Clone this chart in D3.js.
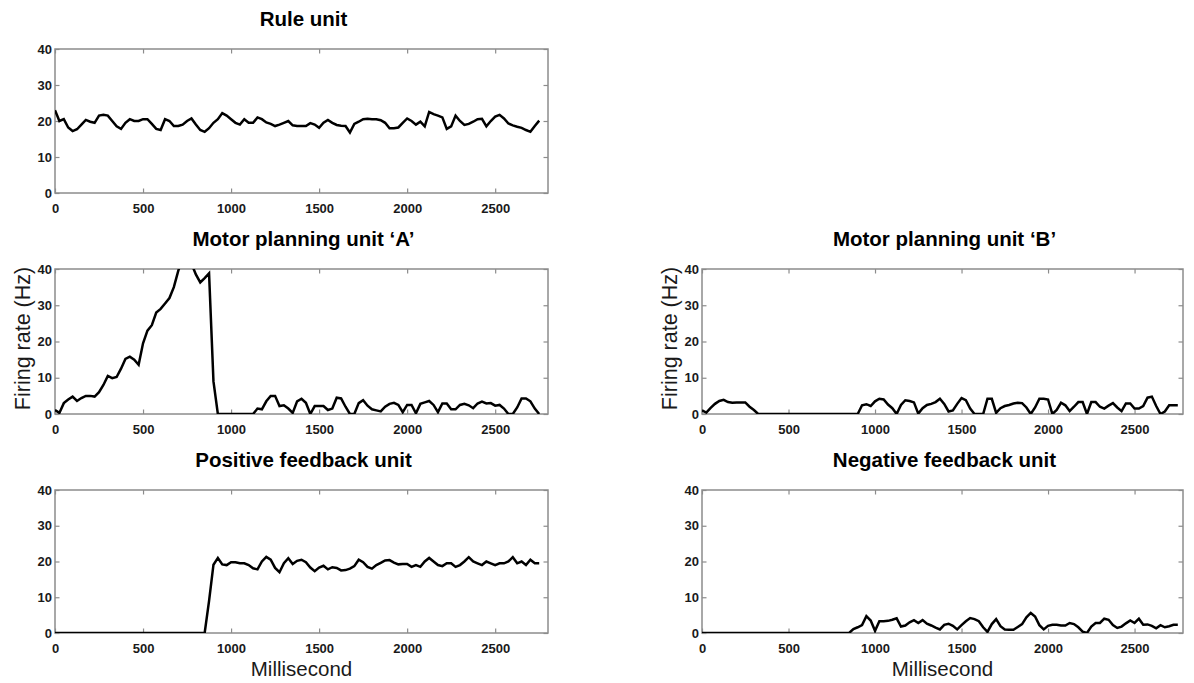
<!DOCTYPE html>
<html>
<head>
<meta charset="utf-8">
<script src="https://cdn.jsdelivr.net/npm/d3@7"></script>
<style>
  body { margin: 0; background: #fff; }
  svg { display: block; }
</style>
</head>
<body>
<svg id="chart" width="1194" height="683"></svg>
<script>
// Firing rate (Hz) of each unit, sampled every 25 ms from 0 to 2750 ms
const sampleStepMs = 25;

const ruleUnit = [
  23, 20, 20.5, 18.2, 17.2, 17.7, 19, 20.3, 19.8, 19.5,
  21.5, 21.7, 21.5, 20, 18.5, 17.8, 19.5, 20.5, 20, 20,
  20.5, 20.5, 19.2, 17.8, 17.5, 20.5, 20, 18.6, 18.6, 19,
  20, 20.7, 19, 17.5, 17, 18, 19.5, 20.5, 22.2, 21.5,
  20.5, 19.5, 19, 20.5, 19.5, 19.5, 21, 20.5, 19.6, 19.2,
  18.6, 19, 19.5, 20, 18.8, 18.6, 18.6, 18.6, 19.4, 19,
  18.1, 19.5, 20.3, 19.5, 18.9, 18.7, 18.6, 16.8, 19.2, 19.8,
  20.5, 20.6, 20.5, 20.5, 20.2, 19.5, 18, 18, 18.2, 19.5,
  20.7, 20, 19, 19.8, 18.5, 22.5, 21.9, 21.5, 21, 17.8,
  18.5, 21.5, 20, 18.9, 19.2, 19.8, 20.5, 20.6, 18.5, 20,
  21.2, 21.7, 20.7, 19.3, 18.8, 18.4, 18.1, 17.5, 17, 18.6,
  20.1
];

const motorUnitA = [
  1.1, 0.3, 3, 4, 4.8, 3.6, 4.4, 5, 5, 4.8,
  6, 8, 10.5, 9.9, 10.2, 12.5, 15.2, 15.8, 15, 13.6,
  19.5, 23, 24.5, 28, 29, 30.5, 32, 35, 39.5, 43,
  44, 41.5, 38.5, 36.3, 37.5, 38.8, 9, 0, 0, 0,
  0, 0, 0, 0, 0, 0, 1.5, 1.3, 3.5, 5,
  5, 2.2, 2.4, 1.5, 0.3, 3.5, 4.2, 3.1, 0, 2.2,
  2.2, 2.2, 1.1, 1.5, 4.5, 4.3, 2, 0, 0, 3,
  3.8, 2.3, 1.3, 1, 0.7, 2, 2.8, 3.1, 2.5, 0.5,
  2.5, 2.5, 0.2, 2.8, 3.2, 3.6, 2.5, 0.5, 2.9, 2.9,
  1.3, 1.3, 2.5, 2.8, 2.4, 1.6, 2.9, 3.4, 2.9, 3,
  2.3, 2.5, 1.5, 0, 0, 1.8, 4.3, 4.3, 3.5, 1.5,
  0
];

const motorUnitB = [
  1, 0.4, 1.7, 2.8, 3.6, 3.9, 3.3, 3.1, 3.2, 3.2,
  3.2, 2, 1.1, 0, 0, 0, 0, 0, 0, 0,
  0, 0, 0, 0, 0, 0, 0, 0, 0, 0,
  0, 0, 0, 0, 0, 0, 0, 2.4, 2.7, 2.2,
  3.5, 4.2, 4, 2.6, 1.6, 0, 2.5, 3.8, 3.6, 3.2,
  0.1, 1.6, 2.5, 2.8, 3.3, 4.2, 2.8, 0.7, 1, 2.8,
  4.4, 3.8, 1.5, 0, 0, 0, 4.2, 4.2, 0.3, 1.6,
  2.2, 2.5, 2.9, 3.1, 3, 1.8, 0, 1.8, 4.2, 4.2,
  4, 0, 1.1, 3.1, 2.4, 0.8, 2, 3.3, 3.3, 0,
  3.3, 3.3, 2, 1.5, 2.3, 3, 1.8, 0.8, 2.9, 2.9,
  1.5, 1.5, 2.2, 4.5, 4.8, 2.2, 0, 0.7, 2.4, 2.4,
  2.4
];

const positiveFeedback = [
  0, 0, 0, 0, 0, 0, 0, 0, 0, 0,
  0, 0, 0, 0, 0, 0, 0, 0, 0, 0,
  0, 0, 0, 0, 0, 0, 0, 0, 0, 0,
  0, 0, 0, 0, 0, 9, 19.1, 21, 19.2, 19,
  19.8, 19.8, 19.5, 19.5, 19, 18.1, 17.8, 20, 21.3, 20.5,
  18.2, 17, 19.5, 20.9, 19.3, 20.2, 20.5, 19.8, 18.3, 17.3,
  18.3, 18.8, 17.8, 18.4, 18.2, 17.5, 17.6, 18, 18.7, 20.5,
  19.8, 18.5, 18, 19, 19.6, 20.3, 20.4, 19.7, 19.2, 19.3,
  19.3, 18.5, 19, 18.5, 20, 21, 20, 19, 18.7, 19.5,
  19.5, 18.5, 19, 20, 21.2, 20, 19.5, 19, 20, 19.5,
  19, 19.5, 19.5, 20, 21.2, 19.5, 20, 19, 20.5, 19.5,
  19.5
];

const negativeFeedback = [
  0, 0, 0, 0, 0, 0, 0, 0, 0, 0,
  0, 0, 0, 0, 0, 0, 0, 0, 0, 0,
  0, 0, 0, 0, 0, 0, 0, 0, 0, 0,
  0, 0, 0, 0, 0, 1.1, 1.6, 2.2, 4.7, 3.5,
  0.6, 3.3, 3.3, 3.4, 3.7, 4.1, 1.8, 2.1, 3, 3.6,
  2.8, 3.6, 2.6, 2.1, 1.5, 1, 2.3, 2.6, 2, 1,
  2.2, 3.3, 4.2, 3.9, 3.3, 1.6, 0.3, 2.5, 3.9, 1.9,
  1, 0.9, 0.9, 1.7, 2.5, 4.4, 5.6, 4.6, 2.2, 1,
  2, 2.3, 2.3, 2.1, 2.1, 2.8, 2.5, 1.6, 0.4, 0,
  1.8, 2.8, 2.8, 4, 3.7, 2.2, 1.4, 1.8, 2.7, 3.5,
  2.8, 4, 2.3, 2.4, 2, 1.3, 2.2, 1.6, 1.9, 2.3,
  2.3
];

const xTickValues = [0, 500, 1000, 1500, 2000, 2500];
const yTickValues = [0, 10, 20, 30, 40];
const panelTitles = [
  "Rule unit",
  "Motor planning unit \u2018A\u2019",
  "Motor planning unit \u2018B\u2019",
  "Positive feedback unit",
  "Negative feedback unit"
];
const xAxisTitle = "Millisecond";
const yAxisTitle = "Firing rate (Hz)";

// Panel geometry: two columns, three rows (top-right slot left empty)
const columns = [
  { left: 55, right: 548, xMax: 2800 },
  { left: 702, right: 1183, xMax: 2780 }
];
const rows = [
  { top: 49, bottom: 193 },
  { top: 269, bottom: 414 },
  { top: 490, bottom: 633 }
];

const panels = [
  { title: panelTitles[0], values: ruleUnit, col: 0, row: 0, yLabel: false, xLabel: false },
  { title: panelTitles[1], values: motorUnitA, col: 0, row: 1, yLabel: true, xLabel: false },
  { title: panelTitles[2], values: motorUnitB, col: 1, row: 1, yLabel: true, xLabel: false },
  { title: panelTitles[3], values: positiveFeedback, col: 0, row: 2, yLabel: false, xLabel: true },
  { title: panelTitles[4], values: negativeFeedback, col: 1, row: 2, yLabel: false, xLabel: true }
];

const svg = d3.select("#chart");
const FONT = "'Liberation Sans', Arial, Helvetica, sans-serif";
const frameColor = "#8c8c8c";
const plainNumber = d3.format("d");

panels.forEach((p, i) => {
  const c = columns[p.col];
  const r = rows[p.row];
  const x = d3.scaleLinear().domain([0, c.xMax]).range([c.left, c.right]);
  const y = d3.scaleLinear().domain([0, 40]).range([r.bottom, r.top]);
  const g = svg.append("g");

  // clip so values above the axis limit are cut at the frame
  const clipId = "clip-" + i;
  svg.append("clipPath").attr("id", clipId)
    .append("rect")
    .attr("x", c.left).attr("y", r.top)
    .attr("width", c.right - c.left).attr("height", r.bottom - r.top);

  // bottom axis with labels, ticks pointing inward
  const bottom = g.append("g")
    .attr("transform", `translate(0,${r.bottom})`)
    .call(d3.axisBottom(x).tickValues(xTickValues).tickFormat(plainNumber)
      .tickSizeInner(-4.5).tickSizeOuter(0).tickPadding(11));
  // left axis with labels
  const left = g.append("g")
    .attr("transform", `translate(${c.left},0)`)
    .call(d3.axisLeft(y).tickValues(yTickValues).tickFormat(plainNumber)
      .tickSizeInner(-4.5).tickSizeOuter(0).tickPadding(3));
  // top and right: unlabeled inward ticks
  const top = g.append("g")
    .attr("transform", `translate(0,${r.top})`)
    .call(d3.axisTop(x).tickValues(xTickValues).tickSizeInner(-4.5).tickSizeOuter(0).tickFormat(""));
  const right = g.append("g")
    .attr("transform", `translate(${c.right},0)`)
    .call(d3.axisRight(y).tickValues(yTickValues).tickSizeInner(-4.5).tickSizeOuter(0).tickFormat(""));

  [bottom, left, top, right].forEach(a => {
    a.select(".domain").remove();
    a.selectAll(".tick line").attr("stroke", frameColor).attr("stroke-width", 1.2);
    a.selectAll(".tick text")
      .attr("fill", "#1a1a1a")
      .style("font-family", FONT)
      .style("font-size", "13px")
      .style("font-weight", "bold");
  });

  // frame box
  g.append("rect")
    .attr("x", c.left).attr("y", r.top)
    .attr("width", c.right - c.left).attr("height", r.bottom - r.top)
    .attr("fill", "none")
    .attr("stroke", frameColor)
    .attr("stroke-width", 1.5);

  // firing-rate trace
  const line = d3.line()
    .x((d, k) => x(k * sampleStepMs))
    .y(d => y(d));
  g.append("path")
    .datum(p.values)
    .attr("clip-path", `url(#${clipId})`)
    .attr("d", line)
    .attr("fill", "none")
    .attr("stroke", "#000")
    .attr("stroke-width", 2.5)
    .attr("stroke-linejoin", "miter");

  // panel title
  svg.append("text")
    .attr("x", (c.left + c.right) / 2 + 2)
    .attr("y", r.top - 23.5)
    .attr("text-anchor", "middle")
    .style("font-family", FONT)
    .style("font-size", "20.5px")
    .style("font-weight", "bold")
    .attr("fill", "#000")
    .text(p.title);

  if (p.yLabel) {
    const cy = (r.top + r.bottom) / 2 - 3;
    svg.append("text")
      .attr("transform", `translate(${c.left - 25},${cy}) rotate(-90)`)
      .attr("text-anchor", "middle")
      .style("font-family", FONT)
      .style("font-size", "21.5px")
      .attr("fill", "#1a1a1a")
      .text(yAxisTitle);
  }
  if (p.xLabel) {
    svg.append("text")
      .attr("x", (c.left + c.right) / 2)
      .attr("y", r.bottom + 43)
      .attr("text-anchor", "middle")
      .style("font-family", FONT)
      .style("font-size", "20.5px")
      .attr("fill", "#1a1a1a")
      .text(xAxisTitle);
  }
});
</script>
</body>
</html>
